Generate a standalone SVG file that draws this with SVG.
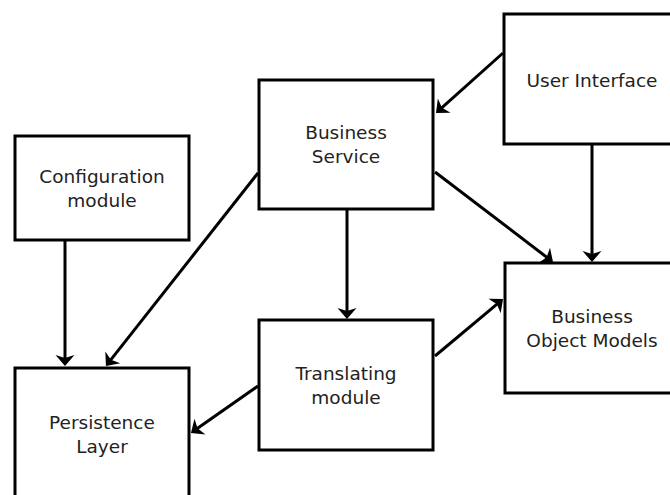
<svg xmlns="http://www.w3.org/2000/svg" width="670" height="495" viewBox="0 0 670 495">
<style>
.box{fill:#fff;stroke:#000;stroke-width:3}
.lbl{font-family:"DejaVu Sans",sans-serif;font-size:18.5px;fill:#222;text-anchor:middle}
.conn{stroke:#000;stroke-width:3;fill:none;marker-end:url(#arr)}
</style>
<defs>
<marker id="arr" markerUnits="userSpaceOnUse" orient="auto" refX="-2" refY="0" markerWidth="30" markerHeight="30" viewBox="-15 -15 30 30" overflow="visible">
<path d="M0,0 L-11,-9.5 L-8,0 L-11,9.5 Z" fill="#000"/>
</marker>
</defs>
<rect width="670" height="495" fill="#fff"/>
<g id="config"><rect class="box" x="15" y="136" width="174" height="104"/><text class="lbl" x="102" y="183">Configuration</text><text class="lbl" x="102" y="207">module</text></g>
<g id="business-service"><rect class="box" x="259" y="80" width="174" height="129"/><text class="lbl" x="346" y="139">Business</text><text class="lbl" x="346" y="163">Service</text></g>
<g id="user-interface"><rect class="box" x="504" y="14" width="176" height="130"/><text class="lbl" x="592" y="87">User Interface</text></g>
<g id="translating"><rect class="box" x="259" y="320" width="174" height="130"/><text class="lbl" x="346" y="380">Translating</text><text class="lbl" x="346" y="404">module</text></g>
<g id="bom"><rect class="box" x="505" y="263" width="176" height="130"/><text class="lbl" x="592" y="323">Business</text><text class="lbl" x="592" y="347">Object Models</text></g>
<g id="persistence"><rect class="box" x="15" y="368" width="174" height="132"/><text class="lbl" x="102" y="429">Persistence</text><text class="lbl" x="102" y="453">Layer</text></g>
<g id="connectors">
<line class="conn" x1="503" y1="53" x2="437.5" y2="111.7"/>
<line class="conn" x1="435" y1="172" x2="551.4" y2="260.8"/>
<line class="conn" x1="592" y1="144" x2="592" y2="260"/>
<line class="conn" x1="347" y1="210" x2="347" y2="317"/>
<line class="conn" x1="435" y1="356" x2="501.5" y2="300.3"/>
<line class="conn" x1="258" y1="173" x2="107.2" y2="364.4"/>
<line class="conn" x1="65" y1="240" x2="65" y2="364"/>
<line class="conn" x1="258" y1="386" x2="192.6" y2="431.8"/>
</g>
</svg>
